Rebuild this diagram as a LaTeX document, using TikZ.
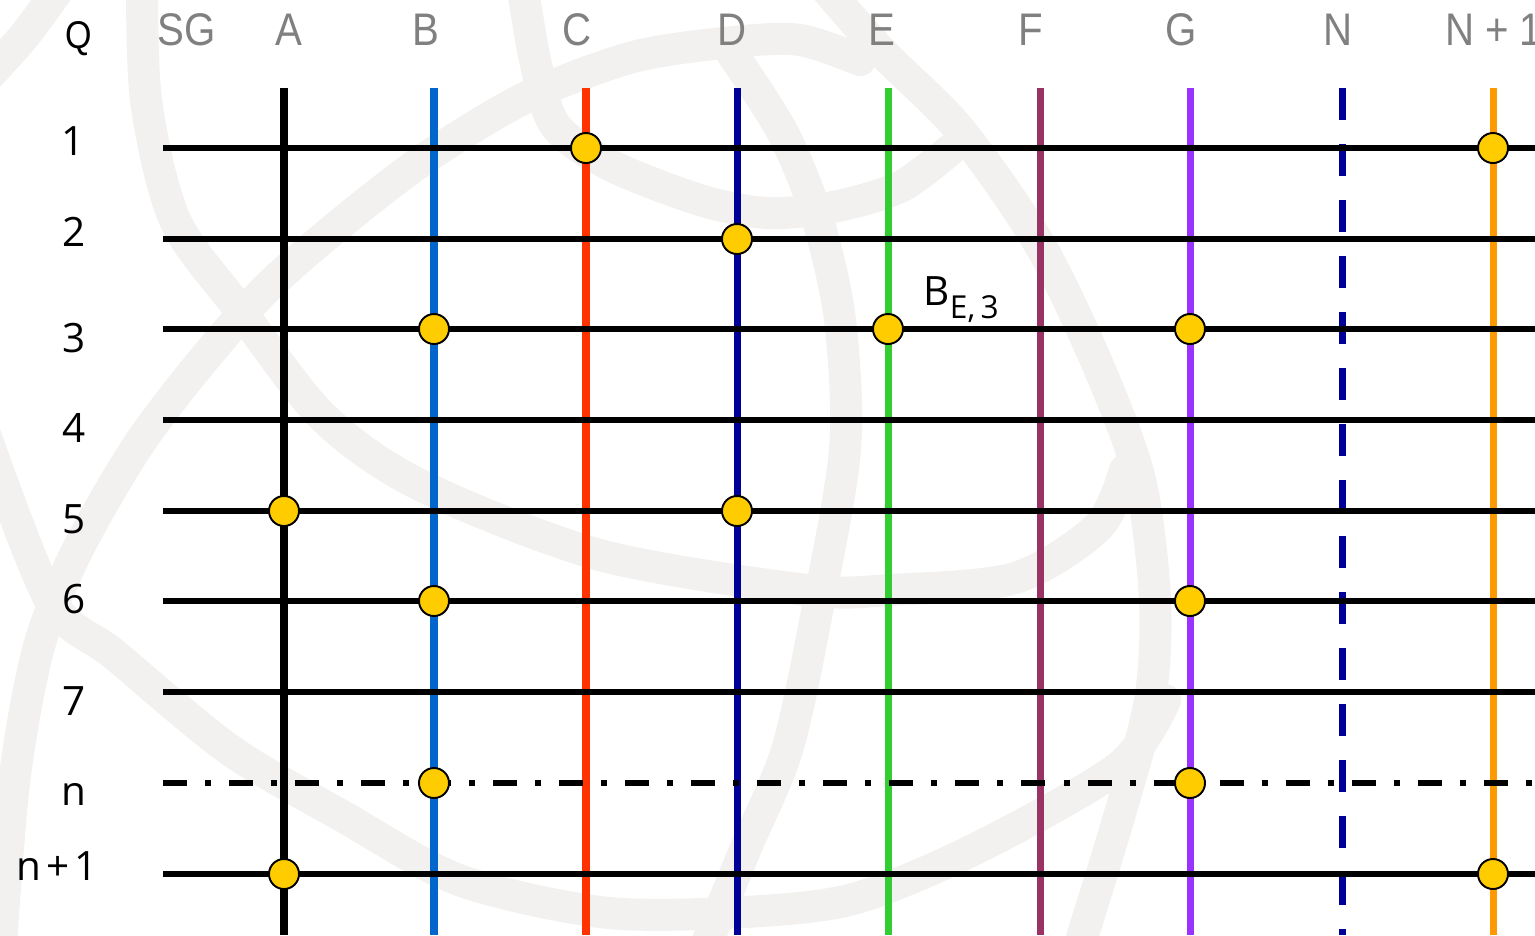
\documentclass[tikz,border=0pt]{standalone}
\usepackage{fontspec}
\setmainfont{Open Sans}
\newfontfamily\narrowfont[FakeStretch=0.88]{Liberation Sans}
\usetikzlibrary{calc}
\definecolor{qmwater}{HTML}{F2F1F0}
\definecolor{qmhead}{HTML}{808080}
\definecolor{qmdot}{HTML}{FFCC00}
\definecolor{qmA}{HTML}{000000}
\definecolor{qmB}{HTML}{0066CC}
\definecolor{qmC}{HTML}{FF3300}
\definecolor{qmD}{HTML}{000099}
\definecolor{qmE}{HTML}{33CC33}
\definecolor{qmF}{HTML}{993366}
\definecolor{qmG}{HTML}{9933FF}
\definecolor{qmM}{HTML}{FF9900}
\tikzset{
  every picture/.style={font=\fontsize{11.5}{13}\selectfont},
  watermark/.style={draw=qmwater,line width=0.32cm,line cap=round,line join=round},
  column/.style={line width=0.07cm},
  qubitrow/.style={draw=black,line width=0.055cm},
  lastrow/.style={qubitrow,line width=0.06cm,
    dash pattern=on 0.24cm off 0.18cm on 0.06cm off 0.18cm},
  gate/.style={circle,draw=black,fill=qmdot,line width=0.55pt,
    minimum size=0.3cm,inner sep=0pt},
  head/.style={text=qmhead,anchor=base,inner sep=0pt,
    font=\narrowfont\fontsize{13}{15}\selectfont},
  rowlabel/.style={anchor=base,inner sep=0pt},
}

\begin{document}
\begin{tikzpicture}[x=0.01cm,y=-0.01cm]
  \useasboundingbox (0,0) rectangle (1535,935);
  % faint logo behind the grid
  \draw[watermark] plot[smooth] coordinates {(142,-30) (146,100) (175,220) (240,310)
    (323,417) (420,485) (600,555) (807,590) (890,590) (1015,578) (1098,527) (1125,470)};
  \draw[watermark] plot[smooth] coordinates {(810,-30) (880,50) (960,130) (1040,245)
    (1100,370) (1140,480) (1155,600) (1150,700) (1119,817) (1075,960)};
  \draw[watermark] plot[smooth] coordinates {(0,960) (14,783) (38,650) (75,555) (135,450)
    (195,370) (265,290) (345,220) (430,155) (527,97) (633,57) (733,42) (800,40) (860,60)};
  \draw[watermark] plot[smooth] coordinates {(733,55) (783,133) (817,217) (840,320)
    (845,450) (816,617) (787,750) (745,850) (700,960)};
  \draw[watermark] plot[smooth] coordinates {(520,-30) (535,60) (555,125) (610,165)
    (700,200) (767,213) (833,207) (900,187) (950,150)};
  \draw[watermark] plot[smooth] coordinates {(-20,420) (50,600) (115,655) (230,750)
    (344,817) (459,880) (600,912) (724,913) (849,900) (973,850) (1119,767) (1165,700)};
  \draw[watermark] plot[smooth] coordinates {(-20,85) (25,35) (65,-20)};

  % columns (one per subgroup) and rows (one per query)
  \foreach \c/\x in {A/284,B/434,C/586,D/737,E/888,F/1040,G/1190,N/1342,M/1493} {
    \coordinate (col\c-t) at (\x,88);
    \coordinate (col\c-b) at (\x,935);
  }
  \foreach \r/\y in {1/148,2/239,3/329,4/420,5/511,6/601,7/692,n/783,m/874} {
    \coordinate (row\r-l) at (163,\y);
    \coordinate (row\r-r) at (1540,\y);
  }
  \foreach \c in {A,B,C,D,E,F,G,M}
    \draw[column,draw=qm\c] (col\c-t) -- (col\c-b);
  \draw[column,draw=qmD,dash pattern=on 0.32cm off 0.24cm] (colN-t) -- (colN-b);
  \foreach \r in {1,2,3,4,5,6,7,m}
    \draw[qubitrow] (row\r-l) -- (row\r-r);
  \draw[lastrow] (rown-l) -- (rown-r);

  % memberships
  \foreach \c/\r in {C/1,M/1,D/2,B/3,E/3,G/3,A/5,D/5,B/6,G/6,B/n,G/n,A/m,M/m}
    \node[gate] (g\c\r) at (col\c-t |- row\r-l) {};

  % headings
  \node[anchor=base,inner sep=0pt,font=\narrowfont\fontsize{11}{13}\selectfont] (hQ) at (79,48) {Q};
  \node[head] (hSG) at (187,45) {SG};
  \node[head] (hA) at (289,45) {A};
  \node[head] (hB) at (426,45) {B};
  \node[head] (hC) at (577,45) {C};
  \node[head] (hD) at (732,45) {D};
  \node[head] (hE) at (882,45) {E};
  \node[head] (hF) at (1031,45) {F};
  \node[head] (hG) at (1181,45) {G};
  \node[head] (hN) at (1338,45) {N};
  \node[head,anchor=base west] (hM) at (1445,45) {N\kern3pt+\kern3pt1};

  \node[rowlabel] (l1) at (73,155) {1};
  \node[rowlabel] (l2) at (74,246) {2};
  \node[rowlabel] (l3) at (74,352) {3};
  \node[rowlabel] (l4) at (74,442) {4};
  \node[rowlabel] (l5) at (74,533) {5};
  \node[rowlabel] (l6) at (74,613) {6};
  \node[rowlabel] (l7) at (74,715) {7};
  \node[rowlabel] (ln) at (74,805) {n};
  \node[rowlabel] (lm) at (57,880) {n\kern1.5pt+\kern1.5pt1};

  \node[anchor=base west,inner sep=0pt] (bE3) at (923,305)
    {B\raisebox{-0.13cm}{\fontsize{9}{10}\selectfont E,\,3}};
\end{tikzpicture}
\end{document}
